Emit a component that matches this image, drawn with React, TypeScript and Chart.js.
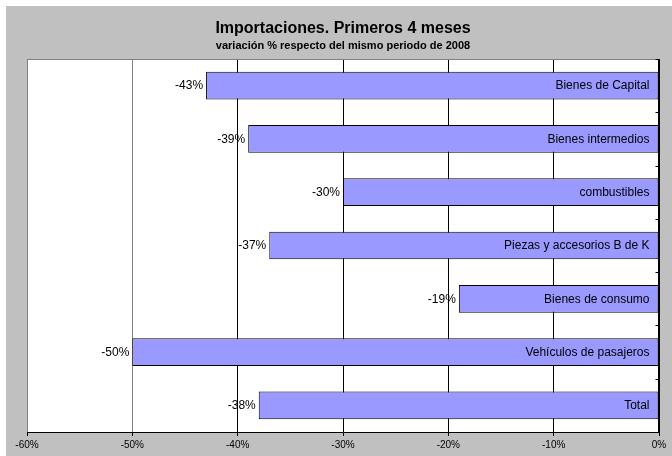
import React, { useEffect, useRef } from "react";
import { Chart, registerables } from "chart.js";

Chart.register(...registerables);

const categories: string[] = [
  "Bienes de Capital",
  "Bienes intermedios",
  "combustibles",
  "Piezas y accesorios B de K",
  "Bienes de consumo",
  "Vehículos de pasajeros",
  "Total",
];
const values: number[] = [-43, -39, -30, -37, -19, -50, -38];
const titleText = "Importaciones. Primeros 4 meses";
const subtitleText = "variación % respecto del mismo periodo de 2008";
const axisMin = -60;
const axisMax = 0;
const axisStep = 10;

const FONT = "'Liberation Sans', Arial, sans-serif";

export default function App() {
  const ref = useRef<HTMLCanvasElement | null>(null);

  useEffect(() => {
    if (!ref.current) return;

    const bgPlugin = {
      id: "bgPlugin",
      beforeDraw(chart: any) {
        const { ctx, width, height, chartArea } = chart;
        ctx.save();
        ctx.fillStyle = "#ffffff";
        ctx.fillRect(0, 0, width, height);
        ctx.fillStyle = "#c0c0c0";
        ctx.fillRect(6, 6, width - 6, height - 6);
        ctx.fillStyle = "#ffffff";
        ctx.fillRect(chartArea.left, chartArea.top, chartArea.right - chartArea.left, chartArea.bottom - chartArea.top);
        // titles
        const cx = (chartArea.left + chartArea.right) / 2;
        ctx.fillStyle = "#000000";
        ctx.textAlign = "center";
        ctx.textBaseline = "middle";
        ctx.font = `bold 16px ${FONT}`;
        ctx.fillText(titleText, cx, 29);
        ctx.font = `bold 11px ${FONT}`;
        ctx.fillText(subtitleText, cx, 45.5);
        ctx.restore();
      },
      afterDraw(chart: any) {
        const { ctx, chartArea, scales } = chart;
        ctx.save();
        // top & left borders
        ctx.strokeStyle = "#808080";
        ctx.lineWidth = 1;
        ctx.beginPath();
        ctx.moveTo(chartArea.left, chartArea.top + 0.5);
        ctx.lineTo(chartArea.right, chartArea.top + 0.5);
        ctx.stroke();
        // right axis with small tick marks at band boundaries
        ctx.strokeStyle = "#000000";
        ctx.beginPath();
        const xr = Math.round(chartArea.right) - 0.5;
        ctx.moveTo(xr, chartArea.top);
        ctx.lineTo(xr, chartArea.bottom);
        const y = scales.y;
        for (let i = 0; i <= categories.length; i++) {
          const p = i < categories.length
            ? y.getPixelForValue(i) - (y.getPixelForValue(1) - y.getPixelForValue(0)) / 2
            : y.getPixelForValue(i - 1) + (y.getPixelForValue(1) - y.getPixelForValue(0)) / 2;
          const yy = Math.round(p) + 0.5;
          ctx.moveTo(xr - 3, yy);
          ctx.lineTo(xr + 1, yy);
        }
        ctx.stroke();
        ctx.restore();
      },
      afterDatasetsDraw(chart: any) {
        const { ctx } = chart;
        const meta = chart.getDatasetMeta(0);
        ctx.save();
        ctx.fillStyle = "#000000";
        ctx.textBaseline = "middle";
        ctx.font = `12px ${FONT}`;
        meta.data.forEach((el: any, i: number) => {
          ctx.textAlign = "right";
          ctx.fillText(`${values[i]}%`, el.x - 3, el.y + 0.5);
          ctx.fillText(categories[i], el.base - 9, el.y + 0.5);
        });
        ctx.restore();
      },
    };

    const gridColors = (ctx: any) => {
      const v = ctx.tick ? ctx.tick.value : 0;
      if (v === -60 || v === -50) return "#808080";
      return "#000000";
    };

    const chart = new Chart(ref.current, {
      type: "bar",
      data: {
        labels: categories,
        datasets: [
          {
            data: values,
            backgroundColor: "#9999ff",
            borderColor: "#000000",
            borderWidth: 1,
            borderSkipped: false,
            barPercentage: 0.52,
            categoryPercentage: 1,
          },
        ],
      },
      options: {
        indexAxis: "y",
        animation: false,
        responsive: false,
        maintainAspectRatio: false,
        devicePixelRatio: 1,
        layout: { padding: { left: 27, top: 59, right: 13, bottom: 0 } },
        plugins: {
          legend: { display: false },
          title: { display: false },
          tooltip: { enabled: false },
        },
        scales: {
          x: {
            type: "linear",
            position: "bottom",
            min: axisMin,
            max: axisMax,
            afterFit(axis: any) {
              axis.height = 24;
            },
            ticks: {
              stepSize: axisStep,
              color: "#000000",
              font: { family: FONT, size: 10 },
              padding: 3,
              maxRotation: 0,
              callback: (v: any) => `${v}%`,
            },
            grid: {
              color: gridColors,
              lineWidth: 1,
              drawTicks: true,
              tickLength: 4,
              tickColor: "#000000",
            },
            border: { display: true, color: "#000000", width: 1 },
          },
          y: {
            type: "category",
            display: false,
            offset: true,
          },
        },
      },
      plugins: [bgPlugin],
    } as any);

    return () => chart.destroy();
  }, []);

  return (
    <div style={{ position: "absolute", left: 0, top: 0, width: 672, height: 456 }}>
      <canvas ref={ref} width={672} height={456} style={{ width: 672, height: 456, display: "block" }} />
    </div>
  );
}
